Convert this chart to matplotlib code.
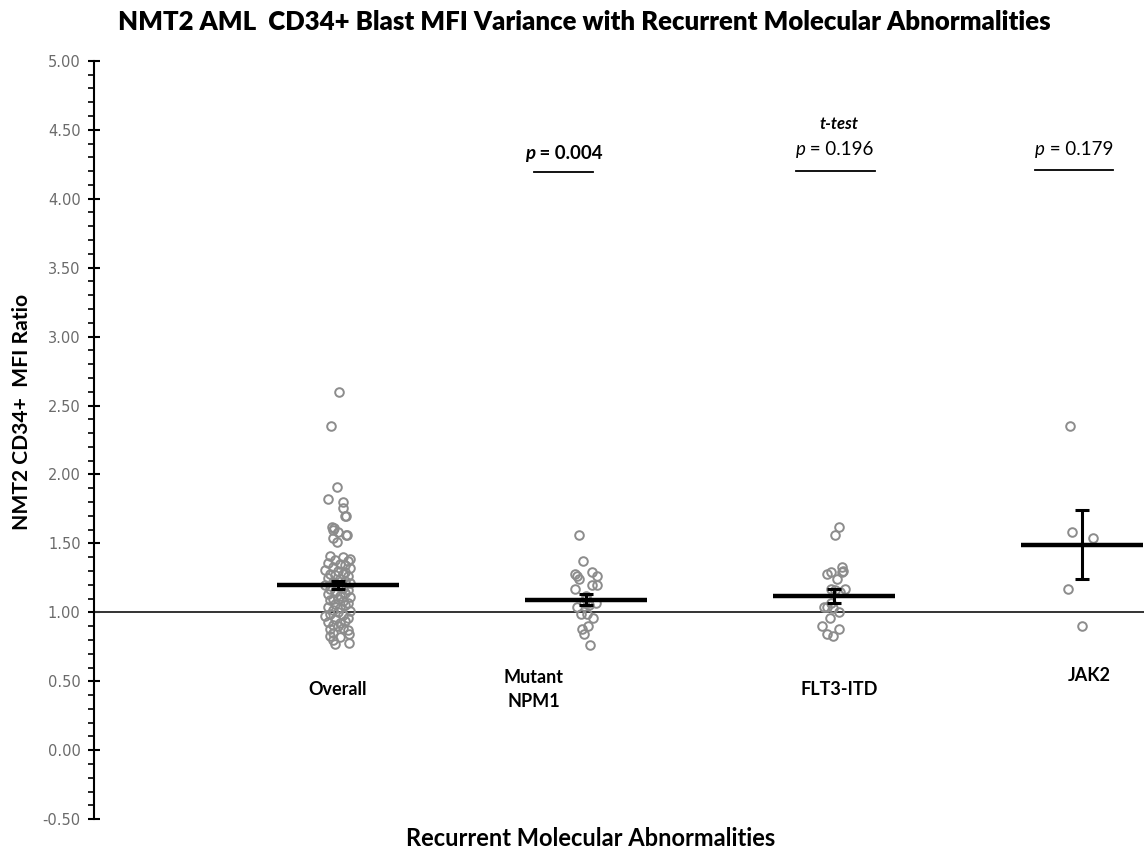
import matplotlib
matplotlib.use('Agg')
import matplotlib.pyplot as plt
from matplotlib.ticker import MultipleLocator, FormatStrFormatter

# values
categories = ['Overall', 'Mutant\nNPM1', 'FLT3-ITD', 'JAK2']
cat_pos = [1, 2, 3, 4]
label_x = [1.0, 1.79, 3.02, 4.03]
label_y = [0.44, 0.44, 0.44, 0.54]

overall_vals = [2.60, 2.35, 1.91, 1.82, 1.80, 1.76, 1.70, 1.70, 1.62, 1.61, 1.60, 1.58, 1.56, 1.56, 1.54, 1.51,
                1.41, 1.40, 1.39, 1.38, 1.37, 1.36, 1.35, 1.34, 1.33, 1.32, 1.31, 1.30, 1.29, 1.28, 1.28,
                1.27, 1.26, 1.25, 1.24, 1.23, 1.22, 1.21, 1.20, 1.19, 1.18, 1.17, 1.16, 1.15, 1.14, 1.13, 1.12, 1.11, 1.10, 1.10,
                1.09, 1.08, 1.07, 1.06, 1.05, 1.04, 1.03, 1.02, 1.01, 1.00,
                0.99, 0.98, 0.97, 0.96, 0.95, 0.94, 0.93, 0.92, 0.91, 0.90, 0.89, 0.88, 0.87,
                0.85, 0.84, 0.83, 0.82, 0.80, 0.78, 0.77]
overall_jit = [0.004, -0.028, -0.004, -0.04, 0.02, 0.02, 0.028, 0.032, -0.024, -0.016, -0.02, 0.0, 0.032, 0.036, -0.02, -0.004,
               -0.03, 0.02, 0.05, -0.01, 0.04, -0.04, 0.01, 0.03, -0.02, 0.05, -0.05, 0.00, 0.03, -0.03, 0.02,
               -0.01, 0.04, -0.04, 0.01, 0.03, -0.02, 0.05, -0.05, 0.00, 0.02, -0.03, 0.04, -0.01, 0.03, -0.04, 0.01, 0.05, -0.02, 0.00,
               -0.03, 0.02, 0.04, -0.01, 0.03, -0.04, 0.01, -0.02, 0.05, 0.00,
               -0.03, 0.02, -0.05, 0.04, -0.01, 0.03, -0.04, 0.01, -0.02, 0.00, 0.02, -0.03, 0.04,
               -0.02, 0.045, -0.03, 0.01, -0.02, 0.045, -0.01]

npm1_vals = [1.56, 1.37, 1.28, 1.26, 1.24, 1.29, 1.26, 1.20, 1.20, 1.17, 1.12, 1.07, 1.07, 1.07,
             1.04, 0.99, 0.99, 0.96, 0.90, 0.88, 0.84, 0.76, 1.10, 1.05]
npm1_jit = [-0.028, -0.012, -0.044, -0.036, -0.028, 0.024, 0.044, 0.024, 0.044, -0.044, 0.0, -0.008, 0.008, 0.04,
            -0.036, -0.02, 0.004, 0.028, 0.008, -0.016, -0.008, 0.016, 0.0, 0.012]

flt3_vals = [1.62, 1.56, 1.33, 1.30, 1.28, 1.29, 1.29, 1.24, 1.17, 1.16, 1.17, 1.15, 1.07, 1.04, 1.04,
             1.03, 1.00, 0.96, 0.90, 0.88, 0.84, 0.83]
flt3_jit = [0.02, 0.004, 0.032, 0.036, -0.028, -0.012, 0.032, 0.012, -0.012, 0.004, 0.044, 0.024, -0.012, -0.04, -0.028,
            -0.004, 0.02, -0.016, -0.048, 0.02, -0.028, -0.004]

jak2_vals = [2.35, 1.58, 1.54, 1.17, 0.90]
jak2_jit = [-0.048, -0.04, 0.044, -0.056, 0.0]

means = [1.20, 1.09, 1.12, 1.49]
sems = [0.03, 0.04, 0.05, 0.25]

p_labels = ['0.004', '0.196', '0.179']
p_bold = [True, False, False]
p_anchor_x = [1.795, 2.885, 3.85]
p_text_y = [4.33, 4.36, 4.36]
p_line_x = [(1.79, 2.03), (2.847, 3.165), (3.81, 4.125)]
p_line_y = [4.19, 4.20, 4.21]

FONT = 'Lato'
GRAY = '#8c8c8c'

fig = plt.figure(figsize=(11.44, 8.56), dpi=100)
ax = fig.add_axes([0.082, 0.043, 0.918, 0.886])

groups = [(overall_vals, overall_jit), (npm1_vals, npm1_jit), (flt3_vals, flt3_jit), (jak2_vals, jak2_jit)]
for pos, (vals, jit) in zip(cat_pos, groups):
    xs = [pos + j for j in jit]
    ax.plot(xs, vals, 'o', ms=6.2, mfc='none', mec=GRAY, mew=1.4, zorder=3, clip_on=False)

# reference line at 1.00
ax.axhline(1.0, color='#333333', lw=1.4, zorder=2)

# mean bars + SEM error bars
for pos, m, s in zip(cat_pos, means, sems):
    ax.plot([pos - 0.245, pos + 0.245], [m, m], color='black', lw=3.2, solid_capstyle='butt', zorder=4)
    ax.errorbar(pos, m, yerr=s, fmt='none', ecolor='black', elinewidth=2.2, capsize=5, capthick=2.2, zorder=4)

# category labels
for lx, ly, name in zip(label_x, label_y, categories):
    ax.text(lx, ly, name, ha='center', va='center', family=FONT, fontweight='bold', fontsize=13,
            linespacing=1.45)

# p-values
for ax_x, ty, lab, bold, (x0, x1), ly in zip(p_anchor_x, p_text_y, p_labels, p_bold, p_line_x, p_line_y):
    w = 'bold' if bold else 'normal'
    ax.text(ax_x, ty, 'p', ha='right', va='center', family=FONT, style='italic', fontweight=w, fontsize=13.5)
    ax.text(ax_x, ty, ' = ' + lab, ha='left', va='center', family=FONT, fontweight=w, fontsize=13.5)
    ax.plot([x0, x1], [ly, ly], color='black', lw=1.3)
ax.text(3.02, 4.54, 't-test', ha='center', va='center', family=FONT, style='italic', fontweight='bold',
        fontsize=12)

# axes styling
ax.set_xlim(0.016, 4.25)
ax.set_ylim(-0.5, 5.0)
for side in ['top', 'right', 'bottom']:
    ax.spines[side].set_visible(False)
ax.spines['left'].set_linewidth(1.5)
ax.set_xticks([])
ax.yaxis.set_major_locator(MultipleLocator(0.5))
ax.yaxis.set_minor_locator(MultipleLocator(0.1))
ax.yaxis.set_major_formatter(FormatStrFormatter('%.2f'))
ax.tick_params(axis='y', which='major', direction='inout', length=9, width=1.5, labelsize=10.5,
               labelcolor='#6b6b6b', pad=5)
ax.tick_params(axis='y', which='minor', direction='out', length=4, width=1.2)

title = fig.text(0.511, 0.974, 'NMT2 AML  CD34+ Blast MFI Variance with Recurrent Molecular Abnormalities',
                 ha='center', va='center', family=FONT, fontweight='heavy', fontsize=16)
xlab = fig.text(0.516, 0.021, 'Recurrent Molecular Abnormalities', ha='center', va='center',
                family=FONT, fontweight='bold', fontsize=17)
ylab = fig.text(0.019, 0.519, 'NMT2 CD34+  MFI Ratio', ha='center', va='center', rotation=90,
                family=FONT, fontweight='bold', fontsize=17)

# scale the big labels so they span the same width as in the reference
fig.canvas.draw()
for t, target, use_h in [(title, 932, False), (xlab, 370, False), (ylab, 235, True)]:
    bb = t.get_window_extent()
    size = bb.height if use_h else bb.width
    t.set_fontsize(t.get_fontsize() * target / size)

fig.savefig('out.png', dpi=100)
